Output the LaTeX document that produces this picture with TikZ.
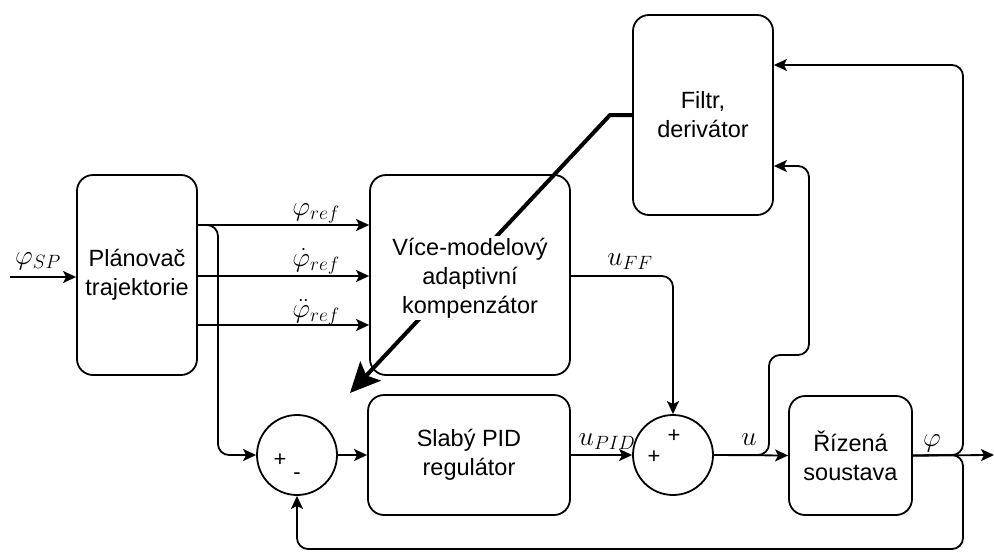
\RequirePackage{fix-cm}
\documentclass[tikz,border=0pt]{standalone}
\usepackage{fontspec}
\setmainfont{Liberation Sans}
\usetikzlibrary{arrows.meta}

\newcommand{\blocktext}{\fontsize{23.5}{29}\selectfont}
\newcommand{\signtext}{\fontsize{22}{24}\selectfont}
\newcommand{\mathtext}{\fontsize{27.5}{30}\selectfont}

\tikzset{
  blk/.style={draw, rounded corners=16pt, align=center, font=\blocktext, inner sep=0pt},
  sumnode/.style={draw, circle, minimum size=80pt, inner sep=0pt},
  arr/.style={-{Stealth[length=13pt,width=12pt,inset=3pt]}, rounded corners=11pt},
  lbl/.style={font=\mathtext, inner sep=0pt, text height=14pt, text depth=3pt},
  sign/.style={font=\signtext, inner sep=0pt},
}

\begin{document}
\begin{tikzpicture}[x=1pt, y=-1pt, line width=1.8pt, line join=round]
\useasboundingbox (0,0) rectangle (994,552);

% blocks
\node[blk, minimum width=120pt, minimum height=200pt] (plan) at (137,275) {Plánovač\\trajektorie};
\node[blk, minimum width=200pt, minimum height=200pt] (vice) at (470,275) {};
\node[blk, minimum width=202pt, minimum height=120pt] (pid) at (469,455) {Slabý PID\\regulátor};
\node[blk, minimum width=140pt, minimum height=200pt] (filt) at (703,115) {Filtr,\\derivátor};
\node[blk, minimum width=123pt, minimum height=119pt] (plant) at (850.5,455.5) {Řízená\\soustava};

% summing junctions
\node[sumnode] (s1) at (297,455) {};
\node[sumnode] (s2) at (673,455) {};
\node[sign] (s1p) at (280,460) {+};
\node[sign] (s1m) at (297,476) {-};
\node[sign] (s2p) at (654,457) {+};
\node[sign] (s2q) at (674,436) {+};

% adaptation signal from the filter into the controller
\coordinate (adapt) at (350,393);
\draw[line width=4pt, -{Stealth[length=30pt,width=28pt,inset=6pt]}]
  (filt.west |- 0,115) -- (610,115) -- (adapt);

% compensator label drawn over the adaptation line
\node[font=\blocktext, fill=white, inner sep=2pt, align=center] (vicetxt) at (470,278)
  {Více-modelový\\adaptivní\\kompenzátor};

% input
\coordinate (in) at (10,277);
\draw[arr] (in) -- (in -| plan.west);
\node[lbl] (lsp) at (38,259) {$\varphi_{SP}$};

% reference trajectories
\draw[arr] (plan.east |- 0,225) -- (vice.west |- 0,225);
\draw[arr] (plan.east |- 0,276) -- (vice.west |- 0,276);
\draw[arr] (plan.east |- 0,325) -- (vice.west |- 0,325);
\node[lbl] (lr0) at (316,210) {$\varphi_{ref}$};
\node[lbl] (lr1) at (316,261) {$\dot{\varphi}_{ref}$};
\node[lbl] (lr2) at (316,312) {$\ddot{\varphi}_{ref}$};

% reference branch to the error junction
\draw[arr] (plan.east |- 0,225) -- (218,225) -- (218,455) -- (s1.west);

% main loop
\draw[arr] (s1.east) -- (pid.west);
\draw[arr] (pid.east) -- (s2.west);
\draw[arr] (vice.east |- 0,276) -| (s2.north);
\draw[arr] (s2.east) -- (plant.west);
\node[lbl] (lff) at (630,260) {$u_{FF}$};
\node[lbl] (lpid) at (607,440) {$u_{PID}$};
\node[lbl] (lu) at (749,440) {$u$};

% control signal to the filter
\draw[arr] (s2.east) -- (769,455) -- (769,355) -- (809,355) -- (809,166) -- (filt.east |- 0,166);

% plant output
\coordinate (out) at (994,455);
\draw[arr] (plant.east) -- (out);
\node[lbl] (lphi) at (932,441) {$\varphi$};

% feedback to the filter and to the error junction
\draw[arr] (plant.east) -- (963,455) -- (963,65) -- (filt.east |- 0,65);
\draw[arr] (plant.east) -- (963,455) -- (963,549) -- (297,549) -- (s1.south);
\end{tikzpicture}
\end{document}
